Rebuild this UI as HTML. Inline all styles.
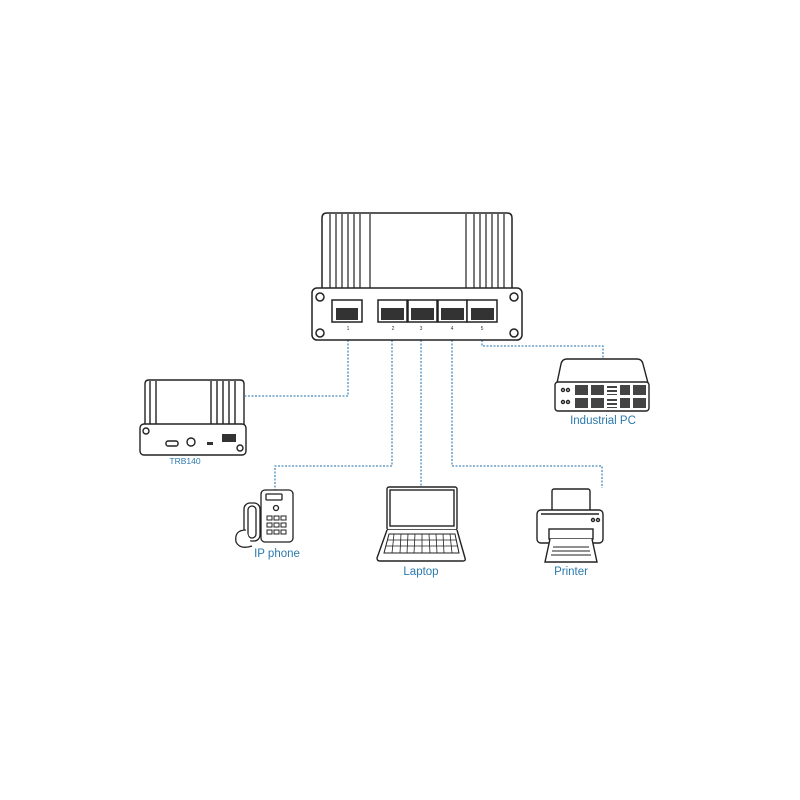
<!DOCTYPE html>
<html><head><style>
html,body{margin:0;padding:0;background:#fff;width:800px;height:800px;overflow:hidden}
svg{display:block}
.lbl{font-family:"Liberation Sans",sans-serif;fill:#2b79ad;text-anchor:middle}
</style></head><body>
<svg width="800" height="800" viewBox="0 0 800 800" xmlns="http://www.w3.org/2000/svg">
<g fill="none" stroke="#4b8cbd" stroke-width="1.3" stroke-dasharray="2,1.5">
<path d="M348 340 V396 H245"/>
<path d="M392 340 V466 H275 V490"/>
<path d="M421 340 V488"/>
<path d="M452 340 V466 H602 V488"/>
<path d="M482 340 V346 H603 V358"/>
</g>
<!-- main switch -->
<g stroke="#222" fill="#fff" stroke-width="1.5">
<path d="M322 290 V218 Q322 213 327 213 H507 Q512 213 512 218 V290 Z"/>
<rect x="312" y="288" width="210" height="52" rx="5"/>
<g stroke-width="1.2">
<path d="M330 214 V288 M336 214 V288 M342 214 V288 M348 214 V288 M354 214 V288 M360 214 V288 M370 214 V288"/>
<path d="M466 214 V288 M474 214 V288 M480 214 V288 M486 214 V288 M492 214 V288 M498 214 V288 M504 214 V288"/>
</g>
<circle cx="320" cy="297" r="4"/><circle cx="514" cy="297" r="4"/><circle cx="320" cy="333" r="4"/><circle cx="514" cy="333" r="4"/>
<rect x="332" y="300" width="30" height="22"/>
<rect x="378" y="300" width="29" height="22"/><rect x="408" y="300" width="29" height="22"/><rect x="438" y="300" width="29" height="22"/><rect x="467" y="300" width="30" height="22"/>
</g>
<g fill="#333">
<rect x="336" y="308" width="22" height="12"/><rect x="381" y="308" width="23" height="12"/><rect x="411" y="308" width="23" height="12"/><rect x="441" y="308" width="23" height="12"/><rect x="471" y="308" width="23" height="12"/>
</g>
<g font-family="Liberation Sans" font-size="5" fill="#333" text-anchor="middle">
<text x="348" y="330">1</text><text x="393" y="330">2</text><text x="421" y="330">3</text><text x="452" y="330">4</text><text x="482" y="330">5</text>
</g>
<!-- TRB140 -->
<g stroke="#222" fill="#fff" stroke-width="1.4">
<path d="M145 425 V384 Q145 380 149 380 H240 Q244 380 244 384 V425 Z"/>
<rect x="140" y="424" width="106" height="31" rx="4"/>
<path d="M150 381 V424 M156 381 V424 M211 381 V424 M217 381 V424 M223 381 V424 M229 381 V424 M235 381 V424"/>
<circle cx="146" cy="431" r="3"/><circle cx="240" cy="448" r="3"/>
<rect x="166" y="441" width="12" height="5" rx="2"/><circle cx="191" cy="442" r="4"/>
</g>
<g fill="#333"><rect x="222" y="434" width="14" height="8"/><rect x="207" y="442" width="6" height="3"/></g>
<text class="lbl" x="185" y="464" font-size="8.5">TRB140</text>
<!-- Industrial PC -->
<g stroke="#222" fill="#fff" stroke-width="1.4">
<path d="M557 383 L561 364 Q562 359 567 359 H637 Q642 359 643 364 L648 383 Z"/>
<rect x="555" y="382" width="94" height="29" rx="3"/>
<circle cx="563" cy="390" r="1.5"/><circle cx="568" cy="390" r="1.5"/><circle cx="563" cy="402" r="1.5"/><circle cx="568" cy="402" r="1.5"/>
</g>
<g fill="#444">
<rect x="575" y="385" width="13" height="10"/><rect x="591" y="385" width="13" height="10"/><rect x="633" y="385" width="13" height="10"/>
<rect x="575" y="398" width="13" height="10"/><rect x="591" y="398" width="13" height="10"/><rect x="633" y="398" width="13" height="10"/>
<rect x="607" y="386" width="10" height="2"/><rect x="607" y="390" width="10" height="2"/><rect x="607" y="394" width="10" height="1"/>
<rect x="607" y="399" width="10" height="2"/><rect x="607" y="403" width="10" height="2"/><rect x="607" y="407" width="10" height="1"/>
<rect x="620" y="385" width="10" height="10"/><rect x="620" y="398" width="10" height="10"/>
</g>
<text class="lbl" x="603" y="424" font-size="11.5">Industrial PC</text>
<!-- IP phone -->
<g stroke="#222" fill="#fff" stroke-width="1.3">
<rect x="261" y="490" width="32" height="52" rx="4"/>
<rect x="266" y="494" width="16" height="6" rx="1"/>
<rect x="244" y="503" width="16" height="38" rx="6"/>
<rect x="248" y="506" width="8" height="32" rx="4"/>
<path d="M246 530 Q234 530 236 542 Q240 550 252 546"/>
<circle cx="276" cy="508" r="2.5"/>
</g>
<g fill="none" stroke="#222" stroke-width="1">
<rect x="267" y="516" width="5" height="4"/><rect x="274" y="516" width="5" height="4"/><rect x="281" y="516" width="5" height="4"/>
<rect x="267" y="523" width="5" height="4"/><rect x="274" y="523" width="5" height="4"/><rect x="281" y="523" width="5" height="4"/>
<rect x="267" y="530" width="5" height="4"/><rect x="274" y="530" width="5" height="4"/><rect x="281" y="530" width="5" height="4"/>
</g>
<text class="lbl" x="277" y="557" font-size="11.5">IP phone</text>
<!-- Laptop -->
<g stroke="#222" fill="#fff" stroke-width="1.4">
<rect x="387" y="487" width="70" height="43" rx="2"/>
<rect x="390" y="490" width="64" height="36"/>
<path d="M387 530 L377 558 Q377 561 380 561 H463 Q466 561 465 558 L457 530"/>
<path d="M389 534 H455 L459 553 H384 Z" stroke-width="1"/>
</g>
<g stroke="#222" stroke-width="0.8">
<path d="M388 540 H456 M386 546 H458"/>
<path d="M394 534 L392 553 M401 534 L400 553 M408 534 L407 553 M415 534 L414 553 M422 534 L422 553 M429 534 L430 553 M436 534 L437 553 M443 534 L444 553 M450 534 L452 553"/>
</g>
<text class="lbl" x="421" y="575" font-size="11.5">Laptop</text>
<!-- Printer -->
<g stroke="#222" fill="#fff" stroke-width="1.4">
<rect x="552" y="489" width="38" height="28" rx="2"/>
<rect x="537" y="510" width="66" height="33" rx="4"/>
<path d="M541 514 H599"/>
<rect x="549" y="529" width="44" height="10"/>
<path d="M550 539 L545 562 H597 L592 539"/>
<circle cx="593" cy="520" r="1.5"/><circle cx="598" cy="520" r="1.5"/>
<path d="M553 547 H589 M552 551 H590 M551 555 H591" stroke-width="1"/>
</g>
<text class="lbl" x="571" y="575" font-size="11.5">Printer</text>
</svg>
</body></html>
